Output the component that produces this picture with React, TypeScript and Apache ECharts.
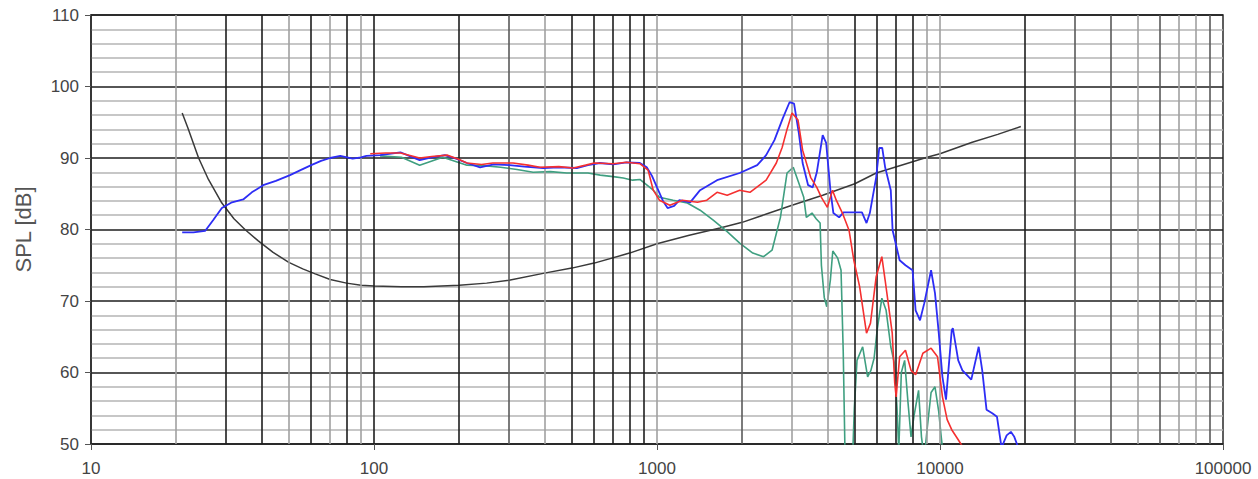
import React, { useEffect, useRef } from "react";
import * as echarts from "echarts";

const X_MIN = 10;
const X_MAX = 100000;
const Y_MIN = 50;
const Y_MAX = 110;
const Y_STEP = 10;

// vertical grid frequencies and their tone (k = black, d = dark grey, g = grey)
const GRID_FREQS = [
  20, 30, 40, 50, 60, 70, 80, 90, 100,
  200, 300, 400, 500, 600, 700, 800, 900, 1000,
  2000, 3000, 4000, 5000, 6000, 7000, 8000, 9000, 10000,
  20000, 30000, 40000, 50000, 60000, 70000, 80000, 90000,
];
const GRID_TONES = [
  "g", "k", "k", "g", "k", "g", "k", "g", "k",
  "k", "d", "g", "k", "k", "k", "k", "k", "g",
  "d", "g", "g", "k", "k", "k", "k", "g", "g",
  "k", "d", "d", "g", "d", "g", "g", "d",
];

const blueFreq = [21, 23, 25.3, 27, 29, 31.5, 34.5, 37, 40.6, 45, 50.5, 55, 60, 65, 70, 76, 84, 90, 94, 105, 115, 124, 135, 145, 160, 178, 195, 213, 237, 265, 301, 340, 396, 450, 521, 570, 628, 700, 780, 870, 920, 960, 1000, 1050, 1090, 1150, 1200, 1310, 1420, 1630, 1960, 2260, 2430, 2600, 2780, 2940, 3050, 3170, 3270, 3420, 3550, 3670, 3850, 3960, 4100, 4200, 4400, 4560, 4900, 5300, 5500, 5650, 5950, 6100, 6250, 6400, 6700, 6800, 7200, 7550, 8000, 8200, 8500, 8800, 9300, 9600, 9900, 10200, 10500, 11000, 11100, 11600, 12000, 12900, 13700, 14100, 14600, 15300, 15900, 16500, 17200, 17800, 18300, 18700, 19200];
const blueDb = [79.6, 79.6, 79.8, 81.3, 83, 83.8, 84.2, 85.2, 86.2, 86.8, 87.6, 88.3, 89, 89.6, 90, 90.3, 89.9, 90.1, 90.3, 90.4, 90.6, 90.8, 90.2, 89.7, 90.1, 90.4, 89.9, 89.3, 88.7, 89.1, 89.0, 88.8, 88.6, 88.7, 88.6, 89.0, 89.3, 89.1, 89.4, 89.3, 88.7, 87.5, 85.9, 84, 83, 83.3, 84.1, 83.8, 85.5, 86.9, 87.9, 89, 90.4, 92.5, 95.5, 97.8, 97.6, 93.5, 89.3, 86.2, 85.9, 88, 93.2, 92.1, 85.5, 82.3, 81.7, 82.4, 82.4, 82.4, 80.9, 82.3, 87.3, 91.4, 91.4, 88.7, 85.5, 79.9, 75.7, 75, 74.3, 68.7, 67.3, 69.7, 74.3, 71.1, 65.5, 59.4, 56.2, 65.9, 66.2, 61.7, 60.3, 59, 63.6, 60.3, 54.8, 54.3, 53.8, 49.5, 51.2, 51.7, 51, 50, 48.5];

const redFreq = [97, 110, 124, 145, 160, 182, 200, 213, 240, 263, 310, 350, 386, 450, 506, 560, 600, 700, 780, 870, 930, 970, 1020, 1110, 1230, 1390, 1500, 1630, 1770, 1960, 2130, 2430, 2640, 2770, 2880, 3000, 3150, 3270, 3490, 3670, 3810, 4000, 4170, 4300, 4520, 4770, 4960, 5200, 5500, 5680, 5950, 6230, 6400, 6780, 6920, 7000, 7200, 7550, 7900, 8200, 8700, 9300, 9800, 10200, 10600, 11000, 11600, 12200];
const redDb = [90.6, 90.7, 90.7, 90, 90.2, 90.4, 89.8, 89.3, 89.1, 89.3, 89.3, 89.0, 88.7, 88.8, 88.6, 89.0, 89.3, 89.2, 89.4, 89.2, 88.3, 85.5, 84.1, 83.4, 84.1, 83.8, 84.1, 85.2, 84.8, 85.5, 85.2, 86.9, 89.3, 91.5, 94, 96.3, 95.3, 91.1, 87.3, 85.9, 84.5, 83.1, 85.5, 84.1, 82.3, 79.9, 75.7, 72, 65.5, 66.9, 73.4, 76.2, 72.9, 65.5, 58.5, 56.6, 62.2, 63.1, 60.3, 59.7, 62.7, 63.4, 62.2, 56.6, 53.4, 52, 50.6, 49.2];

const greenFreq = [105, 125, 145, 175, 213, 250, 280, 320, 365, 420, 480, 570, 630, 700, 760, 820, 870, 970, 1020, 1140, 1280, 1420, 1580, 1770, 1960, 2180, 2380, 2550, 2730, 2880, 3030, 3170, 3300, 3370, 3530, 3650, 3770, 3810, 3900, 3980, 4100, 4180, 4350, 4470, 4550, 4620, 4900, 4980, 5090, 5330, 5550, 5700, 5850, 6000, 6230, 6450, 6700, 6900, 7050, 7150, 7300, 7500, 7700, 7900, 8100, 8400, 8600, 8800, 9000, 9300, 9600, 9900, 10100, 10300];
const greenDb = [90.3, 90.1, 89.0, 90.1, 89.0, 88.9, 88.7, 88.4, 88.0, 88.1, 87.9, 87.9, 87.6, 87.4, 87.2, 86.9, 87.0, 85.5, 84.5, 84.1, 83.7, 82.7, 81.3, 79.7, 78.1, 76.7, 76.2, 77.1, 81.7, 87.9, 88.7, 86.5, 84.5, 81.7, 82.3, 81.5, 80.9, 75, 70.5, 69.2, 73, 77, 76, 74.3, 63, 48, 47, 55, 61.7, 63.6, 59.4, 60.3, 62, 66, 70.4, 68.7, 63.6, 61.3, 55, 49, 60, 61.7, 56, 51, 54, 57.5, 51, 48, 52, 57.2, 58, 54.5, 51, 48];

const blackFreq = [21, 22, 24, 26, 29, 32, 35, 39, 44, 50, 56, 62, 70, 80, 90, 100, 125, 150, 200, 250, 300, 400, 500, 600, 800, 1000, 1300, 1670, 2000, 2450, 3000, 3850, 5000, 5950, 7900, 9000, 10000, 13000, 16000, 19300];
const blackDb = [96.3, 94.2, 90, 87, 83.7, 81.5, 80, 78.4, 76.8, 75.4, 74.5, 73.8, 73, 72.5, 72.2, 72.1, 72, 72, 72.2, 72.5, 72.9, 73.9, 74.6, 75.3, 76.7, 78, 79.2, 80.2, 81, 82.2, 83.4, 84.8, 86.4, 87.9, 89.4, 90.1, 90.6, 92.2, 93.3, 94.4];

const zip = (f: number[], v: number[]) => f.map((x, i) => [x, v[i]]);

const TONE_STYLE: Record<string, { color: string; width: number }> = {
  k: { color: "#1e1e1e", width: 1.6 },
  d: { color: "#5a5a5a", width: 1.6 },
  g: { color: "#a0a0a0", width: 1.6 },
};

const FONT = "Liberation Sans, Arial, sans-serif";

export default function App() {
  const ref = useRef<HTMLDivElement>(null);
  useEffect(() => {
    const chart = echarts.init(ref.current as HTMLDivElement, null, { renderer: "svg" });
    const lineSeries = (name: string, data: number[][], color: string, width: number, z: number) => ({
      name,
      type: "line",
      data,
      showSymbol: false,
      symbol: "none",
      clip: true,
      z,
      lineStyle: { color, width },
      silent: true,
    });
    chart.setOption({
      animation: false,
      backgroundColor: "#ffffff",
      grid: {
        left: 91,
        right: 35,
        top: 15,
        bottom: 35,
        show: true,
        borderColor: "#2a2a2a",
        borderWidth: 1.5,
      },
      xAxis: {
        type: "log",
        logBase: 10,
        min: X_MIN,
        max: X_MAX,
        axisLine: { show: true, lineStyle: { color: "#2a2a2a", width: 1.5 } },
        axisTick: { show: true, length: 6, lineStyle: { color: "#555" } },
        axisLabel: {
          color: "#444",
          fontSize: 17,
          fontFamily: FONT,
          margin: 16,
          formatter: (v: number) => String(Math.round(v)),
        },
        splitLine: { show: false },
      },
      yAxis: {
        type: "value",
        min: Y_MIN,
        max: Y_MAX,
        interval: Y_STEP,
        name: "SPL [dB]",
        nameLocation: "middle",
        nameGap: 57,
        nameTextStyle: { color: "#555", fontSize: 22, fontFamily: FONT },
        axisLine: { show: true, lineStyle: { color: "#2a2a2a", width: 1.5 } },
        axisTick: { show: true, length: 6, lineStyle: { color: "#555" } },
        axisLabel: { color: "#444", fontSize: 17, fontFamily: FONT, margin: 12 },
        splitLine: { show: true, lineStyle: { color: "#1e1e1e", width: 1.6 } },
        minorTick: { show: false, splitNumber: 5 },
        minorSplitLine: { show: true, lineStyle: { color: "#b4b4b4", width: 1.5 } },
      },
      series: [
        {
          name: "grid",
          type: "line",
          data: [],
          z: 1,
          silent: true,
          markLine: {
            silent: true,
            symbol: ["none", "none"],
            label: { show: false },
            animation: false,
            data: GRID_FREQS.map((f, i) => ({
              xAxis: f,
              lineStyle: { type: "solid", ...TONE_STYLE[GRID_TONES[i]] },
            })),
          },
        },
        lineSeries("black", zip(blackFreq, blackDb), "#3a3a3a", 1.5, 3),
        lineSeries("green", zip(greenFreq, greenDb), "#3f9f80", 1.6, 4),
        lineSeries("blue", zip(blueFreq, blueDb), "#2d2df5", 1.8, 5),
        lineSeries("red", zip(redFreq, redDb), "#f53030", 1.6, 6),
      ],
    });
    return () => chart.dispose();
  }, []);
  return (
    <div
      ref={ref}
      style={{ position: "absolute", left: 0, top: 0, width: 1258, height: 479, background: "#fff" }}
    />
  );
}
